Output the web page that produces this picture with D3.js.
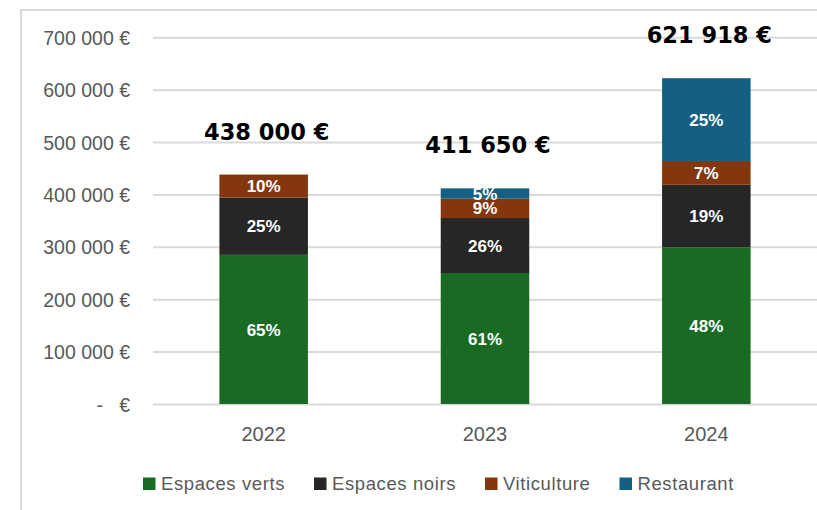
<!DOCTYPE html>
<html>
<head>
<meta charset="utf-8">
<script src="https://cdn.jsdelivr.net/npm/d3@7"></script>
<style>
  body { margin: 0; background: #fff; }
  svg { display: block; }
</style>
</head>
<body>
<svg id="chart" width="817" height="510"></svg>
<script>
// data
var years = ["2022", "2023", "2024"];
var seriesNames = ["Espaces verts", "Espaces noirs", "Viticulture", "Restaurant"];
var espacesVerts = [284700, 250000, 298918];
var espacesNoirs = [109500, 105000, 119500];
var viticulture  = [43800, 37000, 45500];
var restaurant   = [0, 19650, 158000];
var yTicks = [0, 100000, 200000, 300000, 400000, 500000, 600000, 700000];
var colors = ["#196b24", "#262626", "#84370f", "#156082"];

var W = 817, H = 510;
var plot = {left: 153, right: 817, top: 37.3, bottom: 404};

var rows = years.map(function(y, i){
    return {year: y, "Espaces verts": espacesVerts[i], "Espaces noirs": espacesNoirs[i],
            "Viticulture": viticulture[i], "Restaurant": restaurant[i]};
});

var svg = d3.select("#chart");

// outer frame (chart area border, clipped by the window on the right and bottom)
svg.append("rect")
    .attr("x", 21).attr("y", 10)
    .attr("width", W).attr("height", H)
    .attr("fill", "#fff")
    .attr("stroke", "#d9d9d9").attr("stroke-width", 2);

var x = d3.scaleBand().domain(years)
    .range([plot.left, plot.right])
    .paddingInner(0.6).paddingOuter(0.3);
var y = d3.scaleLinear().domain([0, 700000]).range([plot.bottom, plot.top]);

var fr = d3.formatLocale({decimal: ",", thousands: "\u00a0", grouping: [3], currency: ["", "\u00a0€"]});
var fmt = fr.format(",.0f");

// gridlines + y labels
var yAxis = d3.axisLeft(y).tickValues(yTicks)
    .tickSize(-(plot.right - plot.left)).tickPadding(23)
    .tickFormat(function(d){ return d === 0 ? "-\u00a0\u00a0\u00a0€" : fmt(d) + "\u00a0€"; });
var gy = svg.append("g").attr("transform", "translate(" + plot.left + ",0)").call(yAxis);
gy.select(".domain").remove();
gy.selectAll(".tick line").attr("stroke", "#d9d9d9").attr("stroke-width", 2);
gy.selectAll(".tick text")
    .attr("fill", "#595959")
    .attr("font-family", "Liberation Sans, Arial, sans-serif")
    .attr("font-size", 19.5)
    .attr("dy", "0.36em");

// x labels
var xAxis = d3.axisBottom(x).tickSize(0).tickPadding(0);
var gx = svg.append("g").attr("transform", "translate(0," + plot.bottom + ")").call(xAxis);
gx.select(".domain").remove();
gx.selectAll(".tick text")
    .attr("fill", "#595959")
    .attr("font-family", "Liberation Sans, Arial, sans-serif")
    .attr("font-size", 20)
    .attr("dy", 37);

// stacked bars
var stack = d3.stack().keys(seriesNames)(rows);
var totals = rows.map(function(r){ return d3.sum(seriesNames, function(k){ return r[k]; }); });

var layers = svg.append("g").selectAll("g").data(stack).enter().append("g")
    .attr("fill", function(d, i){ return colors[i]; });

layers.selectAll("rect").data(function(d){ return d; }).enter().append("rect")
    .attr("x", function(d){ return x(d.data.year); })
    .attr("width", x.bandwidth())
    .attr("y", function(d){ return y(d[1]); })
    .attr("height", function(d){ return y(d[0]) - y(d[1]); });

// percentage labels
layers.selectAll("text").data(function(d){ return d.filter(function(p){ return p[1] > p[0]; }); })
    .enter().append("text")
    .attr("x", function(d){ return x(d.data.year) + x.bandwidth() / 2; })
    .attr("y", function(d){ return (y(d[0]) + y(d[1])) / 2; })
    .attr("dy", "0.36em")
    .attr("text-anchor", "middle")
    .attr("fill", "#fff")
    .attr("font-family", "Liberation Sans, Arial, sans-serif")
    .attr("font-weight", "bold")
    .attr("font-size", 17)
    .text(function(d){
        var i = years.indexOf(d.data.year);
        return Math.round((d[1] - d[0]) / totals[i] * 100) + "%";
    });

// totals above bars
svg.append("g").selectAll("text").data(years).enter().append("text")
    .attr("x", function(d){ return x(d) + x.bandwidth() / 2 + 3; })
    .attr("y", function(d, i){ return y(totals[i]) - 35; })
    .attr("text-anchor", "middle")
    .attr("fill", "#000")
    .attr("font-family", "DejaVu Sans, sans-serif")
    .attr("font-weight", "bold")
    .attr("font-size", 22.5)
    .text(function(d, i){ return fmt(totals[i]) + " €"; });

// legend
var legend = svg.append("g");
var lx = 143;
seriesNames.forEach(function(name, i){
    var g = legend.append("g").attr("transform", "translate(" + lx + ",0)");
    g.append("rect").attr("x", 0).attr("y", 477.5).attr("width", 12.5).attr("height", 12.5)
        .attr("fill", colors[i]);
    var t = g.append("text")
        .attr("x", 18).attr("y", 490)
        .attr("fill", "#595959")
        .attr("font-family", "Liberation Sans, Arial, sans-serif")
        .attr("font-size", 18.5)
        .attr("letter-spacing", 0.6)
        .text(name);
    lx += 18 + t.node().getComputedTextLength() + 29;
});
</script>
</body>
</html>
